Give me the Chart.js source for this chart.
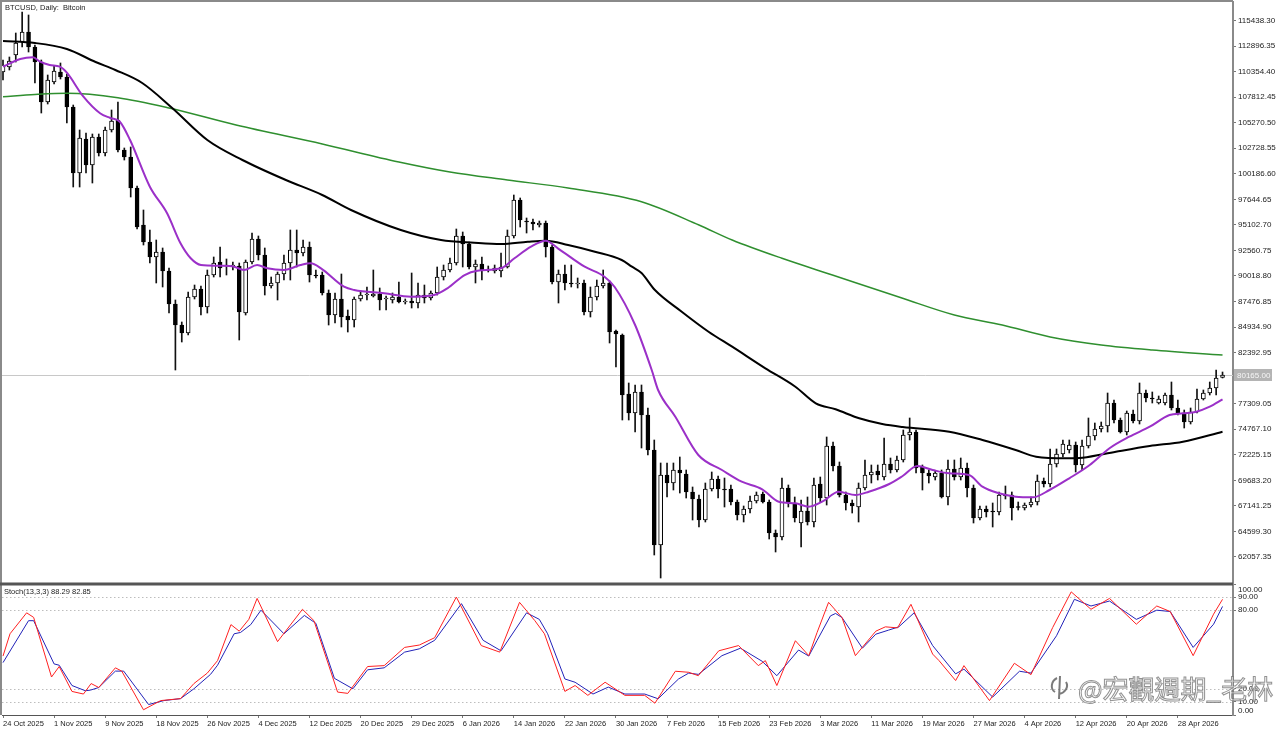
<!DOCTYPE html>
<html>
<head>
<meta charset="utf-8">
<title>BTCUSD Daily</title>
<script src="https://cdn.jsdelivr.net/npm/chart.js@4.4.1/dist/chart.umd.min.js"></script>
<style>
  html, body { margin: 0; padding: 0; background: #ffffff; }
  #wrap { position: relative; width: 1280px; height: 731px; overflow: hidden; background: #fff; }
  #mainChart { position: absolute; left: 0; top: 0; }
  #stochChart { position: absolute; left: 0; top: 584px; }
  #mark {
    position: absolute; left: 1048px; top: 671px;
    display: flex; align-items: center; white-space: nowrap;
    font-family: 'Noto Sans CJK TC', 'Noto Sans CJK SC', sans-serif;
    font-size: 26px; line-height: 34px;
    color: rgba(255, 255, 255, 0.6);
    -webkit-text-stroke: 1px rgba(110, 110, 110, 0.75);
  }
  #mark svg { margin-right: 6px; }
</style>
</head>
<body>
<div id="wrap">
  <canvas id="mainChart" width="1280" height="584"></canvas>
  <canvas id="stochChart" width="1280" height="147"></canvas>
  <div id="mark"><svg width="24" height="28" viewBox="0 0 24 28"><path d="M9 4 C3 7 2 15 7 18 M12 2 L11 25 M11 20 C17 19 21 13 18 8" fill="none" stroke="rgba(90,90,90,0.8)" stroke-width="2"/></svg>@宏觀週期_老林</div>
</div>
<script>
// ===== 数据 =====
const titleText = 'BTCUSD, Daily:  Bitcoin';

// 每根K线 (日线, 下标 0 = 24 Oct 2025)
const candleOpen = [
  110314,110812,112006,113299,114294,112802,111309,107329,109319,110314,
  109817,106832,100264,103648,101060,103847,102255,104543,105538,102553,
  101857,98772,95090,93399,91907,92404,90514,87230,85140,84344,
  87926,88722,86931,90115,91409,91110,91011,91011,86334,91409,
  93698,92106,89021,89320,90215,91310,92603,92304,92902,90115,
  90115,88324,86135,87728,86036,85638,87728,88126,88026,88225,
  87728,87628,87926,87429,87528,87329,88126,87827,88324,89916,
  90613,91310,93996,93200,90912,91210,90613,90514,90514,90912,
  93996,97578,95488,95389,95090,95289,92902,89419,90215,89320,
  89220,89320,86434,87926,89021,89320,84544,84146,78275,76384,
  78474,76186,72703,63250,70216,69420,70713,70315,68524,67828,
  65738,68822,69818,68822,68822,67529,66236,66833,67628,68325,
  67529,64444,64046,68922,67430,65440,66634,65539,69320,67927,
  73101,71111,68226,67430,67032,68922,70216,70614,70016,71310,
  70713,71708,74196,74494,71011,70414,70016,70414,68027,70812,
  70016,70912,68922,65937,66833,66634,66534,68226,68226,67032,
  66932,67230,67529,69619,69320,71310,72305,72703,73200,71211,
  73101,74096,74792,75091,77380,75688,74494,76285,75589,78374,
  77877,77380,77380,78176,76882,76384,75489,76484,77778,78374,
  78872,79930
];
const candleHigh = [
  111508,111806,114194,116284,115986,113000,111508,110015,110911,111210,
  110115,107030,104543,104245,104145,104145,104842,106533,107329,102752,
  102852,98971,96583,94593,93598,92802,90812,87628,85439,88424,
  89120,89021,90613,91907,92901,91708,91409,91310,91608,94294,
  93996,92802,89916,90414,92106,94593,94593,93598,93399,90613,
  90414,88623,88324,90215,86633,87926,88524,88922,90613,88822,
  88026,88324,89419,87728,90314,89320,89120,88524,90912,91110,
  91807,94692,94394,93399,91608,91907,91011,91110,92304,94593,
  98075,97777,95787,95688,95488,95488,93100,90613,91110,91110,
  89817,89618,88922,89618,90613,89519,84643,84245,79370,79171,
  79171,76882,73698,71410,71410,71410,72006,70713,69022,68226,
  69420,70514,70116,69917,69220,67728,67131,68126,68524,68524,
  67728,64743,69917,69220,68027,67728,68027,69917,70016,73997,
  73499,71509,68524,67728,69420,71708,71211,71211,73897,71907,
  72106,74693,75887,74693,71211,70713,70614,70713,71708,71708,
  71907,71410,69220,67131,67131,67430,68524,69121,68524,67529,
  67430,68027,70216,69917,72803,72803,73698,73698,73499,73698,
  75887,75389,75489,78374,77678,75887,76584,76683,79370,78673,
  78474,78076,78374,79469,77678,76683,76882,78772,78673,79469,
  80663,80464
];
const candleLow = [
  109518,110513,111309,112802,112304,109220,106234,107130,109120,109618,
  105240,98872,98872,100264,99269,101956,101956,104344,102354,101558,
  97876,94692,93100,91310,89320,88922,86334,80663,83449,84145,
  87728,86135,86334,89916,89916,90115,90613,83648,86135,91210,
  91608,88126,88822,87628,89618,89618,90912,92006,89419,89817,
  88126,85140,85339,84942,84444,84942,87528,87628,87926,86633,
  86633,87329,87329,87230,86832,86832,87329,87628,88126,89618,
  90414,91110,90912,90713,89320,89618,90414,90314,89916,90812,
  93797,94891,94294,94593,94891,91907,89220,87329,88623,88922,
  88822,86135,85936,87628,88822,83350,80962,75688,75688,74494,
  72902,72206,62256,59967,68027,68723,68424,67927,65738,65042,
  65539,68624,67927,67032,67230,65738,65539,66434,67430,67430,
  63848,62554,63748,67032,65539,63052,65240,65042,67529,67230,
  70614,68027,66733,66434,65539,68723,69420,69718,69718,70414,
  70514,71509,73698,70414,68723,69420,69718,67927,67230,69718,
  69718,68027,65440,65738,66037,65042,66236,67828,65738,66733,
  66733,67032,67230,69022,69022,71011,72006,72404,70514,70713,
  72902,73698,74494,74494,75390,74394,74196,75390,75290,77479,
  77380,77280,77181,76683,76186,74892,75290,76384,77678,78176,
  78176,79867
];
const candleClose = [
  111010,111409,113200,114294,112802,111309,107329,109518,110414,109817,
  106832,100264,103747,101060,103847,102255,104543,105438,102553,101857,
  98772,94891,93399,91907,92404,90514,87230,85140,84344,87926,
  88722,86931,90115,91310,90812,91011,91060,86434,91409,93698,
  92106,89021,89320,90215,91310,92603,92304,92902,90115,90016,
  88324,86135,87728,85936,85638,87728,88126,88225,88225,87628,
  87827,87926,87429,87528,87329,88126,87827,88324,89916,90613,
  91310,93996,93200,90912,91210,90613,90713,90812,90912,93996,
  97578,95588,95389,95190,95289,92902,89419,90215,89320,89220,
  89320,86434,87926,89021,89320,84444,84245,78175,76384,78474,
  76186,72703,63250,70216,69420,70713,70414,68524,67828,65738,
  68822,69818,68822,68723,67529,66236,66833,67628,68226,67529,
  64444,64046,68922,67430,65937,66634,65539,69220,67927,73101,
  71111,68226,67430,67131,68922,70216,70514,70216,71310,70713,
  71708,74196,74494,70912,70414,70116,70414,68027,70812,70016,
  70912,68922,65937,66833,66534,66534,68226,68126,66932,66982,
  67230,67529,69619,69320,71310,72305,73300,73200,71211,73101,
  74096,74792,75091,77380,75688,74494,76384,75589,78374,77877,
  77778,77778,78176,76882,76384,75489,76484,77778,78374,78872,
  79867,80165
];

// 均线 [K线下标, 价格]
const maFast = [
  [0,110841],[2.7,111608],[4.7,111777],[5.8,111339],[7.3,111010],[8.9,110841],[10,110244],
  [12.6,107856],[15.2,106205],[16.8,105737],[18.3,105369],[19.9,103548],[23,98902],[25.7,96255],
  [27.8,93269],[29.4,91777],[31,91110],[34.1,91040],[36.2,90941],[37.7,90613],[39.8,91110],
  [41.4,90782],[44,90613],[46.6,91110],[48.2,91280],[49.8,90782],[53.4,88951],[55,88623],
  [59.7,88294],[63.9,87956],[67.5,88126],[69.6,88792],[72.3,90115],[74.3,90543],[78,90782],
  [80.1,91777],[82.7,92932],[85,93528],[86.9,92772],[91.1,90941],[94.2,89946],[95.8,88921],
  [99,85140],[101.6,80663],[102.6,78673],[105.3,76011],[108.9,72206],[112.6,70713],[115.7,69549],
  [118.9,68794],[121.5,67560],[124.1,67399],[126.2,67061],[128.3,67560],[130.9,68555],[133.5,68226],
  [135.6,68555],[138.8,69320],[140.9,70116],[143.2,71111],[145.6,70713],[148.2,70384],[151.3,70216],
  [153.4,69051],[156,68394],[158.6,68055],[161.3,67996],[163.9,68723],[167,69887],[170.2,71210],
  [173.3,72872],[176.4,74024],[179.6,75020],[182.7,76186],[184.8,76354],[186.9,76514],[189,77011],
  [191,77747]
];
const maMid = [
  [0,113398],[5,113200],[10,112603],[14.5,111309],[17.6,110513],[21.8,109220],[26.5,106732],
  [32,103548],[37.5,101558],[44.3,99568],[50,98076],[54.5,96583],[62.3,94593],[68.6,93598],
  [73.8,93329],[78,93200],[82.2,93429],[85,93528],[88.5,93100],[92.7,92434],[96.9,91608],
  [98.5,90941],[100,90314],[102.1,88623],[106.3,86463],[110.5,84474],[114.2,82981],[119.4,80833],
  [124.1,78997],[127.3,77350],[130.4,76752],[134.1,75856],[137.7,75290],[140.9,74991],[148.2,74524],
  [153.4,73698],[158.6,72703],[161.8,72036],[166.5,71877],[169.1,71937],[174.3,72534],[179.6,73101],
  [184.8,73530],[191,74524]
];
const maSlow = [
  [0,107856],[5,108075],[10,108195],[18,107757],[26,106732],[36.5,105040],[50,103150],
  [62,101359],[70,100364],[79,99568],[88.5,98772],[100,97409],[109,95090],[114.2,93598],
  [122,91777],[129.9,90115],[140.9,87797],[149,86135],[156.5,85140],[164,83946],[172,83150],
  [180,82653],[191,82156]
];

// 随机指标 Stoch(13,3,3) [K线下标, 数值]
const stochMain = [
  [0,45],[1.1,62],[3.7,78],[4.8,74.5],[7.6,29],[8.8,37],[10.8,18],[12.6,16],[13.8,24],[15,21],
  [17.6,36],[18.6,33.5],[22,4],[24.7,11],[27.8,12.5],[29.9,24],[32,32],[33.6,41.5],[35.7,69],[37,64],
  [38.5,73],[39.8,89],[43,56],[46.9,80.7],[48.7,72],[52.4,17.5],[54,16.5],[57.1,37],[59.7,37.7],[62.9,51.6],
  [65.2,53.4],[67.6,59],[71,90],[74.9,53],[77.8,48],[80.9,86],[83.3,72],[84.8,62],[88,18],[89.6,22.5],
  [91.6,15],[94.3,25],[97.4,15],[100.5,15],[102.1,9],[105.3,33.4],[107.4,32.6],[108.9,30],[112.1,49],[115.2,53],
  [118.3,37.7],[119.4,41.5],[121.2,22.5],[124.1,56.7],[126.2,45.3],[127.5,63],[129.3,86],[131.4,74.4],[133.5,45.3],[136.7,64],
  [138.2,67.3],[140.1,66.5],[142.2,84.5],[145.6,46.5],[146.6,41.5],[149.2,26.3],[150.5,37.7],[154.5,11],[158.4,39.5],[161,30.8],
  [164.4,66.8],[167.3,94],[170.4,80.7],[173.3,89],[177.5,69.3],[180.7,83.2],[182.8,79],[186.4,45.3],[189.6,77],[191,88.29]
];
const stochSignal = [
  [0,40],[4,72],[4.8,72],[8,39],[8.8,38],[10.8,22.5],[12.9,18.5],[13.7,19],[15,21],[17.6,33.5],
  [18.9,33.5],[22.8,8],[25.2,11],[27.8,12.5],[29.9,20],[32.5,31],[33.6,38],[36.2,62],[37.2,63],[38.8,69],
  [40.4,80],[44,62],[47.2,76],[49,70],[51.9,28],[54.8,20],[57.1,34.5],[59.7,36],[62.9,48],[65.2,50.5],
  [67.6,57],[71.8,85],[75.2,57],[78,49],[82,78],[84,73],[85.3,62],[88,27.5],[89.6,25],[92.4,16],
  [94.8,21.3],[97.4,16],[100.5,16],[102.6,12.4],[105.8,27.5],[107.4,32],[108.9,31],[112.6,45.3],[115.5,51],[118.9,41],
  [121.2,30],[124.6,49.6],[126.2,45],[127.5,57],[129.6,75.7],[130.4,77.5],[131.4,74.4],[134.6,51],[136.7,61.7],[138.7,64.8],
  [140.3,67.3],[142.7,78],[145.6,53],[149.2,31.4],[150.5,35],[155,13.7],[159.2,33.4],[161,32],[165,60.5],[167.8,88.3],
  [170.4,83.2],[173.3,87],[177.5,73],[180.7,80],[182.8,79],[186.4,51.6],[189.6,69.3],[191,82.85]
];
const stochLevels = [90, 80, 20, 10];
const stochTicks = [0, 10, 20, 80, 90, 100];

// 坐标轴刻度
const priceTicks = [
  115438.30, 112896.35, 110354.40, 107812.45, 105270.50, 102728.55, 100186.60,
  97644.65, 95102.70, 92560.75, 90018.80, 87476.85, 84934.90, 82392.95, 79851.00,
  77309.05, 74767.10, 72225.15, 69683.20, 67141.25, 64599.30, 62057.35
];
const labelBars = [0, 8, 16, 24, 32, 40, 48, 56, 64, 72, 80, 88, 96, 104, 112, 120, 128, 136, 144, 152, 160, 168, 176, 184];
const dateLabels = [
  '24 Oct 2025', '1 Nov 2025', '9 Nov 2025', '18 Nov 2025', '26 Nov 2025', '4 Dec 2025',
  '12 Dec 2025', '20 Dec 2025', '29 Dec 2025', '6 Jan 2026', '14 Jan 2026', '22 Jan 2026',
  '30 Jan 2026', '7 Feb 2026', '15 Feb 2026', '23 Feb 2026', '3 Mar 2026', '11 Mar 2026',
  '19 Mar 2026', '27 Mar 2026', '4 Apr 2026', '12 Apr 2026', '20 Apr 2026', '28 Apr 2026'
];

// ===== 图表 =====
Chart.defaults.font.family = "'Liberation Sans', Arial, sans-serif";
Chart.defaults.animation = false;

const xMin = -0.157, xMax = 192.64;
const lastClose = candleClose[candleClose.length - 1];
const toXY = pairs => pairs.map(p => ({ x: p[0], y: p[1] }));

// 去掉刻度文字带来的额外内边距, 让绘图区贴紧边框
function noScalePadding(s) {
  s.paddingTop = 0; s.paddingBottom = 0; s.paddingLeft = 0; s.paddingRight = 0;
}

const mainDecor = {
  id: 'mainDecor',
  beforeDatasetsDraw(chart) {
    const { ctx, chartArea: a, scales: { y } } = chart;
    const py = Math.round(y.getPixelForValue(lastClose)) + 0.5;
    ctx.save();
    ctx.strokeStyle = '#c8c8c8';
    ctx.lineWidth = 1;
    ctx.beginPath(); ctx.moveTo(a.left, py); ctx.lineTo(a.right, py); ctx.stroke();
    ctx.restore();
  },
  afterDraw(chart) {
    const { ctx, chartArea: a, scales: { y } } = chart;
    ctx.save();
    ctx.strokeStyle = '#8a8a8a';
    ctx.lineWidth = 2;
    ctx.beginPath(); ctx.moveTo(1, chart.height); ctx.lineTo(1, 1); ctx.lineTo(a.right, 1); ctx.stroke();
    ctx.strokeStyle = '#555';
    ctx.beginPath(); ctx.moveTo(0, a.bottom + 0.5); ctx.lineTo(a.right, a.bottom + 0.5); ctx.stroke();

    ctx.fillStyle = '#222';
    ctx.font = "7.5px 'Liberation Sans'";
    ctx.textBaseline = 'middle';
    ctx.textAlign = 'left';
    ctx.fillText(titleText, 5, 8);

    // 当前价标签
    const py = y.getPixelForValue(lastClose);
    ctx.fillStyle = '#b4b4b4';
    ctx.fillRect(a.right + 1, py - 6, 38, 12);
    ctx.fillStyle = '#f6f6f6';
    ctx.font = "8px 'Liberation Sans'";
    ctx.fillText(lastClose.toFixed(2), a.right + 4, py + 0.5);
    ctx.restore();
  }
};

new Chart(document.getElementById('mainChart'), {
  type: 'bar',
  data: {
    datasets: [
      { type: 'line', label: 'MA fast', data: toXY(maFast), borderColor: '#9b30c8', borderWidth: 2,
        pointRadius: 0, cubicInterpolationMode: 'monotone', order: 0 },
      { type: 'line', label: 'MA mid', data: toXY(maMid), borderColor: '#000000', borderWidth: 2,
        pointRadius: 0, cubicInterpolationMode: 'monotone', order: 0 },
      { type: 'line', label: 'MA slow', data: toXY(maSlow), borderColor: '#2f8f2f', borderWidth: 1.5,
        pointRadius: 0, cubicInterpolationMode: 'monotone', order: 1 },
      { label: 'body', data: candleOpen.map((o, i) => ({ x: i, y: [o, candleClose[i]] })),
        backgroundColor: candleOpen.map((o, i) => candleClose[i] >= o ? '#ffffff' : '#000000'),
        borderColor: '#000000', borderWidth: 1, borderSkipped: false,
        barThickness: 4, minBarLength: 1, grouped: false, order: 2 },
      { label: 'wick', data: candleLow.map((l, i) => ({ x: i, y: [l, candleHigh[i]] })),
        backgroundColor: '#111111', barThickness: 1, grouped: false, order: 3 }
    ]
  },
  options: {
    responsive: false,
    animation: false,
    layout: { padding: { left: 2, top: 2, right: 0, bottom: 1 } },
    plugins: { legend: { display: false }, tooltip: { enabled: false } },
    scales: {
      x: { type: 'linear', min: xMin, max: xMax, bounds: 'data', offset: false, display: false, grid: { offset: false } },
      y: {
        position: 'right', min: 59469.5, max: 117279, bounds: 'data',
        afterBuildTicks: s => { s.ticks = priceTicks.map(v => ({ value: v })); },
        afterFit: s => { s.width = 47; noScalePadding(s); },
        ticks: { callback: v => Number(v).toFixed(2), font: { size: 8 }, color: '#222', padding: 2, autoSkip: false },
        grid: { drawOnChartArea: false, drawTicks: true, tickLength: 3, tickColor: '#777' },
        border: { display: true, color: '#8a8a8a', width: 2 }
      }
    }
  },
  plugins: [mainDecor]
});

const stochDecor = {
  id: 'stochDecor',
  beforeDatasetsDraw(chart) {
    const { ctx, chartArea: a, scales: { y } } = chart;
    ctx.save();
    ctx.strokeStyle = '#bdbdbd';
    ctx.lineWidth = 1;
    ctx.setLineDash([1.5, 2.5]);
    stochLevels.forEach(v => {
      const py = Math.round(y.getPixelForValue(v)) + 0.5;
      ctx.beginPath(); ctx.moveTo(a.left, py); ctx.lineTo(a.right, py); ctx.stroke();
    });
    ctx.restore();
  },
  afterDraw(chart) {
    const { ctx, chartArea: a } = chart;
    ctx.save();
    ctx.strokeStyle = '#8a8a8a';
    ctx.lineWidth = 2;
    ctx.beginPath(); ctx.moveTo(1, 0); ctx.lineTo(1, a.bottom); ctx.stroke();
    ctx.strokeStyle = '#555';
    ctx.beginPath(); ctx.moveTo(0, 0.5); ctx.lineTo(a.right, 0.5); ctx.stroke();

    ctx.fillStyle = '#222';
    ctx.font = "7.5px 'Liberation Sans'";
    ctx.textBaseline = 'middle';
    ctx.textAlign = 'left';
    const lastMain = stochMain[stochMain.length - 1][1];
    const lastSignal = stochSignal[stochSignal.length - 1][1];
    ctx.fillText('Stoch(13,3,3) ' + lastMain.toFixed(2) + ' ' + lastSignal.toFixed(2), 4, 8);

    ctx.font = "8px 'Liberation Sans'";
    ctx.fillText('100.00', a.right + 5, 5.5);
    ctx.fillText('0.00', a.right + 5, a.bottom - 4.5);
    ctx.restore();
  }
};

new Chart(document.getElementById('stochChart'), {
  type: 'line',
  data: {
    datasets: [
      { label: 'main', data: toXY(stochMain), borderColor: '#ff2020', borderWidth: 1, pointRadius: 0, tension: 0 },
      { label: 'signal', data: toXY(stochSignal), borderColor: '#2222b8', borderWidth: 1, pointRadius: 0, tension: 0 }
    ]
  },
  options: {
    responsive: false,
    animation: false,
    layout: { padding: { left: 2, top: 0, right: 0, bottom: 0 } },
    plugins: { legend: { display: false }, tooltip: { enabled: false } },
    scales: {
      x: {
        type: 'linear', min: xMin, max: xMax, bounds: 'data', offset: false,
        afterBuildTicks: s => { s.ticks = labelBars.map(v => ({ value: v })); },
        afterFit: s => { s.height = 16; noScalePadding(s); },
        ticks: { callback: (v, i) => dateLabels[i], align: 'start', autoSkip: false, maxRotation: 0,
                 font: { size: 7.5 }, color: '#222', padding: 1 },
        grid: { drawOnChartArea: false, drawTicks: true, tickLength: 3, tickColor: '#777' },
        border: { display: true, color: '#555', width: 1 }
      },
      y: {
        position: 'right', min: 0, max: 100, bounds: 'data',
        afterBuildTicks: s => { s.ticks = stochTicks.map(v => ({ value: v })); },
        afterFit: s => { s.width = 47; noScalePadding(s); },
        ticks: { callback: v => (v === 0 || v === 100) ? '' : Number(v).toFixed(2),
                 font: { size: 8 }, color: '#222', padding: 2, autoSkip: false },
        grid: { drawOnChartArea: false, drawTicks: true, tickLength: 3, tickColor: '#777' },
        border: { display: true, color: '#8a8a8a', width: 2 }
      }
    }
  },
  plugins: [stochDecor]
});
</script>
</body>
</html>
